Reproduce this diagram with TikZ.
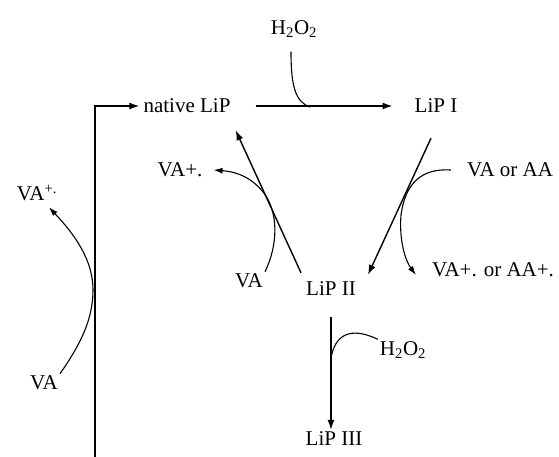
\documentclass[tikz,border=0pt]{standalone}
\usepackage{fontspec}
\setmainfont{Liberation Serif}
\usetikzlibrary{arrows.meta, positioning}

\begin{document}
\begin{tikzpicture}[
		x=1pt, y=-1pt,
		species/.style={inner sep=2pt, font=\fontsize{21}{24}\selectfont},
		arrow/.style={-{Latex[length=10pt, width=7pt]}, line width=1.4pt},
		side/.style={line width=1.1pt},
		sidearrow/.style={side, -{Latex[length=9pt, width=6pt]}}
		]
		\useasboundingbox (0,0) rectangle (559,457);

		% enzyme states
		\node[species] (native) at (187,106) {native LiP};
		\node[species] (lip1) at (436,106) {LiP I};
		\node[species] (lip2) at (331,289) {LiP II};
		\node[species] (lip3) at (334,439) {LiP III};

		% co-substrates and products
		\node[species] (h2o2top) at (294,29) {H\textsubscript{2}O\textsubscript{2}};
		\node[species] (h2o2low) at (403,350) {H\textsubscript{2}O\textsubscript{2}};
		\node[species] (vapM) at (180,170) {VA+.};
		\node[species] (vaM) at (249,281) {VA};
		\node[species] (vaoraa) at (510,170) {VA or AA};
		\node[species] (vapor) at (493,270) {VA+. or AA+.};
		\node[species] (vapL) at (37,193) {VA\textsuperscript{+.}};
		\node[species] (vaL) at (44,383) {VA};

		\coordinate (base) at (95,457);
		\coordinate (join1) at (310,107);
		\coordinate (join2) at (331,358);
		\coordinate (touchL) at (93,290);
		\coordinate (touchM) at (266,196);
		\coordinate (touchR) at (401,215);

		% main cycle
		\draw[arrow, shorten <=23pt, shorten >=20pt] (native.east) -- (lip1.west);
		\draw[arrow] ([xshift=-5pt, yshift=-23pt]lip1.south) -- ([xshift=10pt, yshift=5pt]lip2.north east);
		\draw[arrow] ([xshift=-3pt, yshift=7pt]lip2.north west) -- ([xshift=3pt, yshift=-15pt]native.south east);
		\draw[arrow, shorten <=19pt] (lip2.south) -- (lip2.south |- lip3.north);
		\draw[arrow, shorten >=2pt] (base) |- (native.west);

		% side reactions
		\draw[side] ([xshift=-3pt, yshift=-12pt]h2o2top.south) .. controls (291,85) and (295,102) .. (join1);
		\draw[side] (h2o2low.north west) .. controls (350,326) and (335,335) .. (join2);
		\draw[sidearrow] (vaM.north east) .. controls (278,245) and (278,215) .. (touchM)
			.. controls (255,180) and (240,172) .. ([xshift=9pt]vapM.east);
		\draw[sidearrow] ([xshift=-14pt]vaoraa.west) .. controls (420,168) and (405,185) .. (touchR)
			.. controls (399,240) and (405,260) .. ([xshift=-14pt, yshift=-5pt]vapor.west);
		\draw[sidearrow] (vaL.north east) .. controls (80,345) and (93,320) .. (touchL)
			.. controls (93,260) and (75,235) .. ([xshift=12pt, yshift=-4pt]vapL.south);
\end{tikzpicture}
\end{document}
